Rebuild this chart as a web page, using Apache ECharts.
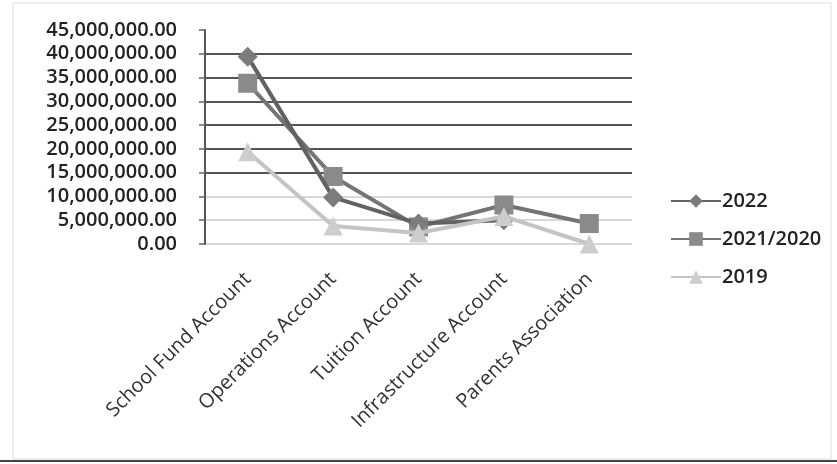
<!DOCTYPE html>
<html><head><meta charset="utf-8">
<script src="https://cdn.jsdelivr.net/npm/echarts@6/dist/echarts.min.js"></script>
<style>html,body{margin:0;padding:0;background:#fff}#c{width:837px;height:464px}</style>
</head><body><div id="c"></div>
<script>
const categories = ['School Fund Account','Operations Account','Tuition Account','Infrastructure Account','Parents Association'];
const s2022 = [39400000, 9800000, 4300000, 5000000, null];
const s2021 = [33800000, 14200000, 3600000, 8200000, 4300000];
const s2019 = [19400000, 3800000, 2300000, 5800000, 0];
const yTicks = {min: 0, max: 45000000, interval: 5000000};

const fmt = v => Number(v).toLocaleString('en-US', {minimumFractionDigits: 2, maximumFractionDigits: 2});
const chart = echarts.init(document.getElementById('c'));
const font = 'Open Sans';
chart.setOption({
  animation: false,
  backgroundColor: '#fff',
  graphic: [
    {type: 'rect', shape: {x: 13, y: 3, width: 818, height: 456}, style: {fill: 'none', stroke: '#dcdcdc', lineWidth: 1}, silent: true},
    {type: 'line', shape: {x1: 0, y1: 461, x2: 837, y2: 461}, style: {stroke: '#444', lineWidth: 2}, silent: true}
  ],
  grid: {left: 205, right: 205, top: 30, bottom: 220},
  legend: {
    orient: 'vertical', left: 665, top: 186, itemGap: 18, itemWidth: 50, itemHeight: 17,
    textStyle: {fontFamily: font, fontSize: 20, color: '#222', fontWeight: 600, padding: [0,0,0,-4]},
    data: ['2022','2021/2020','2019']
  },
  xAxis: {
    type: 'category', data: categories, boundaryGap: true,
    axisLine: {show: false}, axisTick: {show: false},
    axisLabel: {rotate: 45, interval: 0, fontFamily: font, fontSize: 20, color: '#333', margin: 32}
  },
  yAxis: {
    type: 'value', min: yTicks.min, max: yTicks.max, interval: yTicks.interval,
    axisLine: {show: true, lineStyle: {color: '#555', width: 2}},
    axisTick: {show: true, length: 6, lineStyle: {color: '#666', width: 1.5}},
    axisLabel: {formatter: fmt, fontFamily: font, fontSize: 20, fontWeight: 600, color: '#222', margin: 28},
    splitLine: {show: true, lineStyle: {
      color: ['#d8d8d8','#d8d8d8','#d8d8d8','#555','#555','#555','#555','#555','#555','rgba(0,0,0,0)'],
      width: 2
    }}
  },
  series: [
    {name: '2022', type: 'line', data: s2022, symbol: 'diamond', symbolSize: 20,
     lineStyle: {color: '#626262', width: 4}, itemStyle: {color: '#7c7c7c'}, z: 3},
    {name: '2021/2020', type: 'line', data: s2021, symbol: 'rect', symbolSize: 19,
     lineStyle: {color: '#747474', width: 4}, itemStyle: {color: '#8a8a8a'}, z: 2},
    {name: '2019', type: 'line', data: s2019, symbol: 'triangle', symbolSize: 19,
     lineStyle: {color: '#c4c4c4', width: 4}, itemStyle: {color: '#cdcdcd'}, z: 4}
  ]
});
</script></body></html>
